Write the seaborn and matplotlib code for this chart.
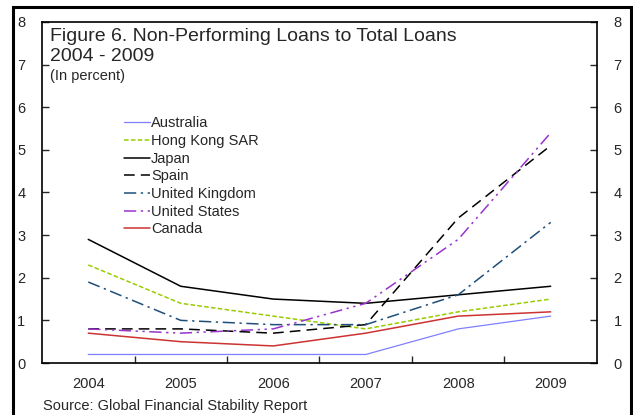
import matplotlib.pyplot as plt
import matplotlib.patches as patches
import numpy as np
import pandas as pd
import seaborn as sns

years = [2004, 2005, 2006, 2007, 2008, 2009]
australia = [0.2, 0.2, 0.2, 0.2, 0.8, 1.1]
hong_kong = [2.3, 1.4, 1.1, 0.8, 1.2, 1.5]
japan = [2.9, 1.8, 1.5, 1.4, 1.6, 1.8]
spain = [0.8, 0.8, 0.7, 0.9, 3.4, 5.1]
united_kingdom = [1.9, 1.0, 0.9, 0.9, 1.6, 3.3]
united_states = [0.8, 0.7, 0.8, 1.4, 2.9, 5.4]
canada = [0.7, 0.5, 0.4, 0.7, 1.1, 1.2]

series = {
    'Australia': australia,
    'Hong Kong SAR': hong_kong,
    'Japan': japan,
    'Spain': spain,
    'United Kingdom': united_kingdom,
    'United States': united_states,
    'Canada': canada,
}

styles = {
    'Australia': dict(color='#7f7fff', linestyle='-', linewidth=0.9),
    'Hong Kong SAR': dict(color='#99cc00', linestyle=(0, (3, 1.5)), linewidth=1.1),
    'Japan': dict(color='black', linestyle='-', linewidth=1.1),
    'Spain': dict(color='black', linestyle=(0, (7, 4)), linewidth=1.1),
    'United Kingdom': dict(color='#1f4e79', linestyle=(0, (8, 3, 1.5, 3)), linewidth=1.1),
    'United States': dict(color='#9933cc', linestyle=(0, (8, 3, 1.5, 3, 1.5, 3)), linewidth=1.1),
    'Canada': dict(color='#cc3333', linestyle='-', linewidth=1.1),
}

df = pd.DataFrame(series, index=years)
df.index.name = 'year'

sns.set_style('white')
plt.rcParams['font.family'] = ['Liberation Sans', 'DejaVu Sans']

fig = plt.figure(figsize=(6.33, 4.15), dpi=100)
ax = fig.add_axes([0.0664, 0.1253, 0.8766, 0.8217])

for name in series:
    sns.lineplot(x=df.index, y=df[name], ax=ax, label=name, **styles[name])

ax.set_xlim(2003.5, 2009.5)
ax.set_ylim(0, 8)
ax.set_xticks(years)
ax.set_xticks(np.array(years[:-1]) + 0.5, minor=True)
ax.set_yticks(range(0, 9))
ax.tick_params(axis='x', which='major', length=0, labelsize=10.5, pad=10)
ax.tick_params(axis='x', which='minor', direction='in', length=5, width=1, bottom=True)
ax.tick_params(axis='y', direction='in', length=5, width=1, left=True, right=True,
               labelleft=True, labelright=True, labelsize=10.5, pad=12)
ax.set_xlabel('')
ax.set_ylabel('')
for s in ax.spines.values():
    s.set_color('black')
    s.set_linewidth(1.2)

ax.text(0.014, 0.982, 'Figure 6. Non-Performing Loans to Total Loans\n2004 - 2009',
        transform=ax.transAxes, fontsize=14, va='top', ha='left', linespacing=1.2)
ax.text(0.014, 0.862, '(In percent)', transform=ax.transAxes, fontsize=10.5, va='top', ha='left')

ax.legend(loc='upper left', bbox_to_anchor=(0.148, 0.723), frameon=False, fontsize=10.5,
          handlelength=1.75, handletextpad=0.1, labelspacing=0.25, borderaxespad=0,
          borderpad=0)

fig.text(43 / 633, 0.012, 'Source: Global Financial Stability Report', fontsize=10.5,
         ha='left', va='baseline')

fig.patches.append(patches.Rectangle((13 / 633, -0.01), 618 / 633, 1 - 7 / 415 + 0.01,
                                     transform=fig.transFigure, fill=False,
                                     edgecolor='black', linewidth=2.2))

fig.savefig('out.png', dpi=100)
